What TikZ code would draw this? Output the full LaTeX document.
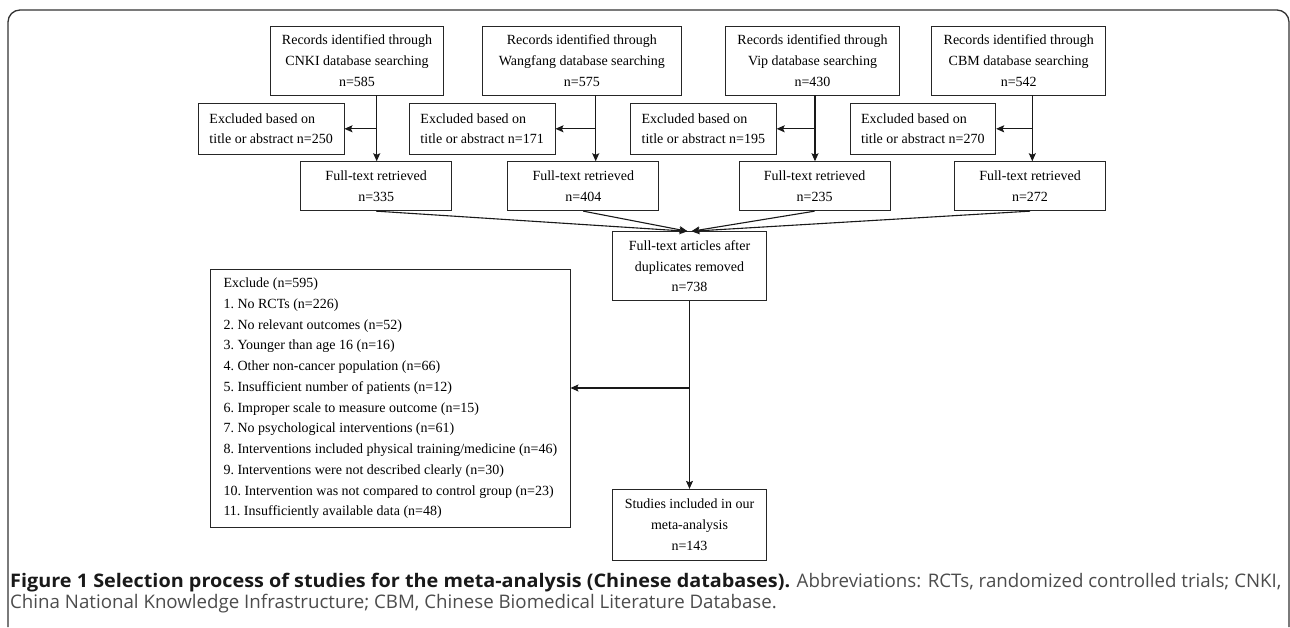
\documentclass[tikz,border=0pt]{standalone}
\usepackage{fontspec}
\usepackage{xcolor}
\usetikzlibrary{arrows.meta}
\newfontfamily\boxfont{Liberation Serif}
\newfontfamily\capfont{Open Sans}[BoldFeatures={FakeStretch=1.06}]
\definecolor{boxline}{gray}{0.15}
\definecolor{frameline}{gray}{0.2}
\definecolor{captext}{gray}{0.3}

\begin{document}
\begin{tikzpicture}[x=1pt, y=-1pt,
    basenode/.style={shape=rectangle, draw=boxline, line width=0.9pt, inner sep=0pt, font={\boxfont\fontsize{14}{20.75}\selectfont\frenchspacing}},
    recordnode/.style={basenode, minimum height=68.3pt, align=center},
    excludednode/.style={basenode, minimum width=145.7pt, minimum height=51pt, align=left},
    fulltextnode/.style={basenode, minimum width=151pt, minimum height=49pt, align=center},
    resultnode/.style={basenode, minimum width=154.4pt, align=center},
    arr/.style={-{Stealth[length=8pt,width=7pt,inset=1.5pt]}, line width=1.1pt, black!90}
]
\useasboundingbox (0,0) rectangle (1290,627);

% Frame
\draw[frameline, line width=1.3pt, rounded corners=12pt] (8,627) -- (8,10) -- (1289,10) -- (1289,627);

% Coordinates
\coordinate (cnki_x) at (376.7,0);
\coordinate (wangfang_x) at (595.7,0);
\coordinate (vip_x) at (815,0);
\coordinate (cbm_x) at (1032.3,0);
\coordinate (split) at (689.5,388);

% Boxes

% databases
\node[recordnode, minimum width=172.6pt] (cnki) at (357,60.85) {Records identified through\\CNKI database searching\\n=585};
\node[recordnode, minimum width=198.3pt] (wangfang) at (581.85,60.85) {Records identified through\\Wangfang database searching\\n=575};
\node[recordnode, minimum width=173.6pt] (vip) at (812.5,60.85) {Records identified through\\Vip database searching\\n=430};
\node[recordnode, minimum width=174pt] (cbm) at (1018.7,60.85) {Records identified through\\CBM database searching\\n=542};

% excluded on title or abstract
\node[excludednode] (ex_cnki) at (271.15,128.8) {Excluded based on\\title or abstract n=250};
\node[excludednode] (ex_wangfang) at (482.15,128.8) {Excluded based on\\title or abstract n=171};
\node[excludednode] (ex_vip) at (703.35,128.8) {Excluded based on\\title or abstract n=195};
\node[excludednode] (ex_cbm) at (922.85,128.8) {Excluded based on\\title or abstract n=270};

% full texts
\node[fulltextnode] (ft_cnki) at (376.2,186.2) {Full-text retrieved\\n=335};
\node[fulltextnode] (ft_wangfang) at (583.3,186.2) {Full-text retrieved\\n=404};
\node[fulltextnode] (ft_vip) at (814.65,186.2) {Full-text retrieved\\n=235};
\node[fulltextnode] (ft_cbm) at (1030,186.2) {Full-text retrieved\\n=272};

% merged and final
\node[resultnode, minimum height=69pt] (merged) at (689.5,266.2) {Full-text articles after\\duplicates removed\\n=738};
\node[resultnode, minimum height=70.7pt] (studies) at (689.5,524.65) {Studies included in our\\meta-analysis\\n=143};
\node[basenode, minimum width=359.3pt, minimum height=257.4pt, align=left] (exclude) at (390.35,398.5) {Exclude (n=595)\\
1. No RCTs (n=226)\\
2. No relevant outcomes (n=52)\\
3. Younger than age 16 (n=16)\\
4. Other non-cancer population (n=66)\\
5. Insufficient number of patients (n=12)\\
6. Improper scale to measure outcome (n=15)\\
7. No psychological interventions (n=61)\\
8. Interventions included physical training/medicine (n=46)\\
9. Interventions were not described clearly (n=30)\\
10. Intervention was not compared to control group (n=23)\\
11. Insufficiently available data (n=48)};

% Caption
\node[anchor=north west, inner sep=0pt, align=left, font={\capfont\fontsize{18.7}{21}\selectfont}, text=captext] (caption) at (10,573) {{\color{black!90}\bfseries Figure 1 Selection process of studies for the meta-analysis (Chinese databases).} Abbreviations: RCTs, randomized controlled trials; CNKI,\\China National Knowledge Infrastructure; CBM, Chinese Biomedical Literature Database.};

% Arrows
\draw[arr] (cnki.south -| cnki_x) -- (ft_cnki.north -| cnki_x);
\draw[arr] (wangfang.south -| wangfang_x) -- (ft_wangfang.north -| wangfang_x);
\draw[arr] (vip.south -| vip_x) -- (ft_vip.north -| vip_x);
\draw[arr] (cbm.south -| cbm_x) -- (ft_cbm.north -| cbm_x);

\draw[arr] (cnki_x |- ex_cnki.east) -- (ex_cnki.east);
\draw[arr] (wangfang_x |- ex_wangfang.east) -- (ex_wangfang.east);
\draw[arr] (vip_x |- ex_vip.east) -- (ex_vip.east);
\draw[arr] (cbm_x |- ex_cbm.east) -- (ex_cbm.east);

\draw[arr] (ft_cnki.south) -- ([xshift=-2pt]merged.north);
\draw[arr] (ft_wangfang.south) -- ([xshift=-2pt]merged.north);
\draw[arr] (ft_vip.south) -- ([xshift=2pt]merged.north);
\draw[arr] (ft_cbm.south) -- ([xshift=2pt]merged.north);

\draw[arr] (merged.south) -- (studies.north);
\draw[arr] (split) -- (split -| exclude.east);

\end{tikzpicture}
\end{document}
